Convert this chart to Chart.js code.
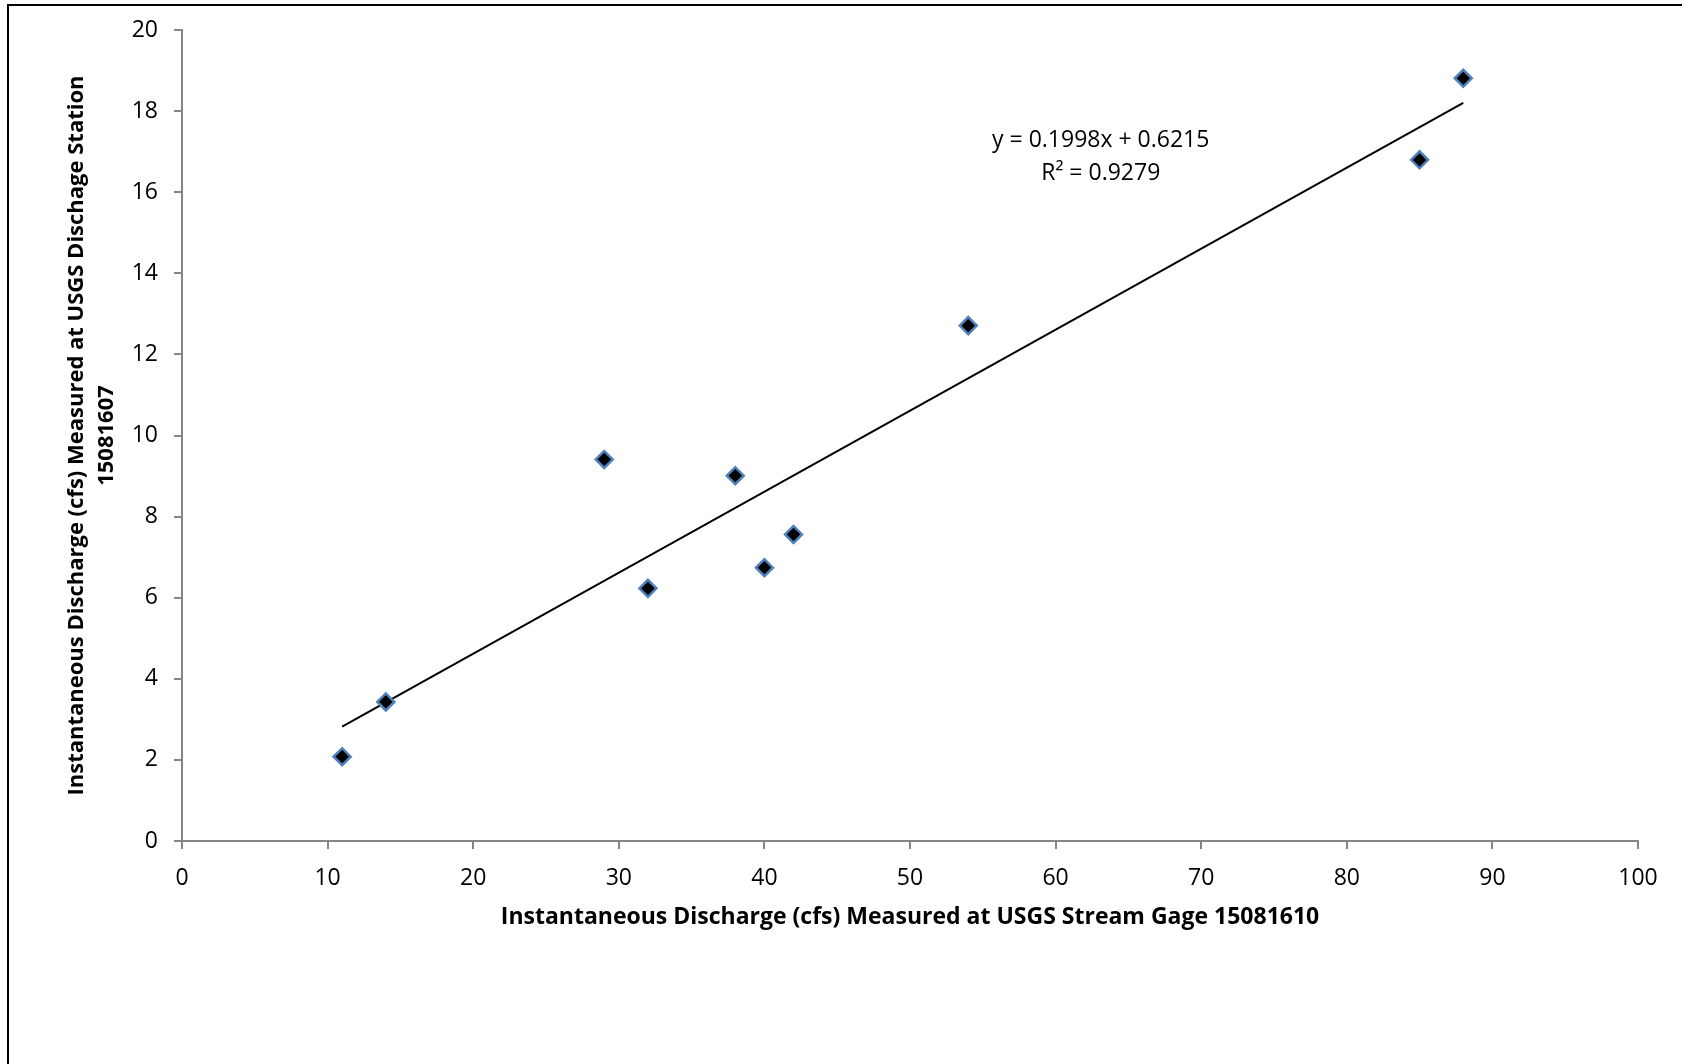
<!DOCTYPE html>
<html>
<head>
<meta charset="utf-8">
<script src="https://cdn.jsdelivr.net/npm/chart.js@4"></script>
<style>
  html, body { margin: 0; padding: 0; background: #fff; }
  #wrap { width: 1682px; height: 1064px; }
</style>
</head>
<body>
<div id="wrap"><canvas id="myChart"></canvas></div>
<script>
let ctx = document.getElementById("myChart").getContext("2d")

// readings from the two gauges
let streamGage = [11, 14, 29, 32, 38, 40, 42, 54, 85, 88]
let dischargeStation = [2.08, 3.43, 9.41, 6.23, 9.01, 6.74, 7.56, 12.71, 16.80, 18.81]

// linear trendline as labelled on the chart
let slope = 0.1998
let intercept = 0.6215
let rSquared = 0.9279

let xTicks = [0, 10, 20, 30, 40, 50, 60, 70, 80, 90, 100]
let yTicks = [0, 2, 4, 6, 8, 10, 12, 14, 16, 18, 20]

let points = streamGage.map((x, i) => ({ x: x, y: dischargeStation[i] }))
let xMin = Math.min(...streamGage)
let xMax = Math.max(...streamGage)
let trend = [
    { x: xMin, y: slope * xMin + intercept },
    { x: xMax, y: slope * xMax + intercept }
]

let font = "'Open Sans', 'Noto Sans', sans-serif"
let axisGray = '#868686'

// outer frame, top and left edges only show in the picture
let frame = {
    id: 'frame',
    beforeDraw(chart) {
        let c = chart.ctx
        c.save()
        c.fillStyle = '#fff'
        c.fillRect(0, 0, chart.width, chart.height)
        c.strokeStyle = '#000'
        c.lineWidth = 2
        c.beginPath()
        c.moveTo(8, chart.height + 5)
        c.lineTo(8, 5)
        c.lineTo(chart.width + 5, 5)
        c.stroke()
        c.restore()
    }
}

let equation = {
    id: 'equation',
    afterDatasetsDraw(chart) {
        let c = chart.ctx
        let px = chart.scales.x.getPixelForValue(63.1)
        let py = chart.scales.y.getPixelForValue(17.27)
        c.save()
        c.fillStyle = '#000'
        c.font = '23px ' + font
        c.textAlign = 'center'
        c.textBaseline = 'middle'
        c.fillText('y = ' + slope + 'x + ' + intercept, px, py)
        c.fillText('R\u00b2 = ' + rSquared, px, py + 33)
        c.restore()
    }
}

let myChart = new Chart(ctx, {
    type: 'scatter',
    data: {
        datasets: [{
            label: 'Discharge',
            data: points,
            pointStyle: 'rectRot',
            pointRadius: 8.5,
            pointHoverRadius: 8.5,
            backgroundColor: '#000',
            borderColor: '#4f81bd',
            borderWidth: 2.5,
            order: 1
        }, {
            label: 'Linear trend',
            type: 'line',
            data: trend,
            borderColor: '#000',
            borderWidth: 2,
            pointRadius: 0,
            fill: false,
            order: 2
        }]
    },
    options: {
        responsive: true,
        maintainAspectRatio: false,
        animation: false,
        layout: {
            padding: { left: 8, top: 30, right: 44, bottom: 133 }
        },
        plugins: {
            legend: { display: false },
            tooltip: { enabled: false }
        },
        scales: {
            x: {
                type: 'linear',
                min: 0,
                max: 100,
                afterBuildTicks(axis) { axis.ticks = xTicks.map(v => ({ value: v })) },
                afterFit(axis) { axis.height = 90 },
                grid: { drawOnChartArea: false, color: axisGray, tickLength: 8, lineWidth: 2 },
                border: { color: axisGray, width: 2 },
                ticks: { color: '#000', font: { family: font, size: 23 }, padding: 16, maxRotation: 0 },
                title: {
                    display: true,
                    text: 'Instantaneous Discharge (cfs) Measured at USGS Stream Gage 15081610',
                    color: '#000',
                    font: { family: font, size: 23, weight: 'bold' },
                    padding: { top: 10, bottom: 0 }
                }
            },
            y: {
                type: 'linear',
                min: 0,
                max: 20,
                afterBuildTicks(axis) { axis.ticks = yTicks.map(v => ({ value: v })) },
                afterFit(axis) { axis.width = 174 },
                grid: { drawOnChartArea: false, color: axisGray, tickLength: 8, lineWidth: 2 },
                border: { color: axisGray, width: 2 },
                ticks: { color: '#000', font: { family: font, size: 23 }, padding: 16 },
                title: {
                    display: true,
                    text: ['Instantaneous Discharge (cfs) Measured at USGS Dischage Station', '15081607'],
                    color: '#000',
                    font: { family: font, size: 22, weight: 'bold', lineHeight: 1.35 },
                    padding: { top: 54, bottom: 0 }
                }
            }
        }
    },
    plugins: [frame, equation]
})
</script>
</body>
</html>
